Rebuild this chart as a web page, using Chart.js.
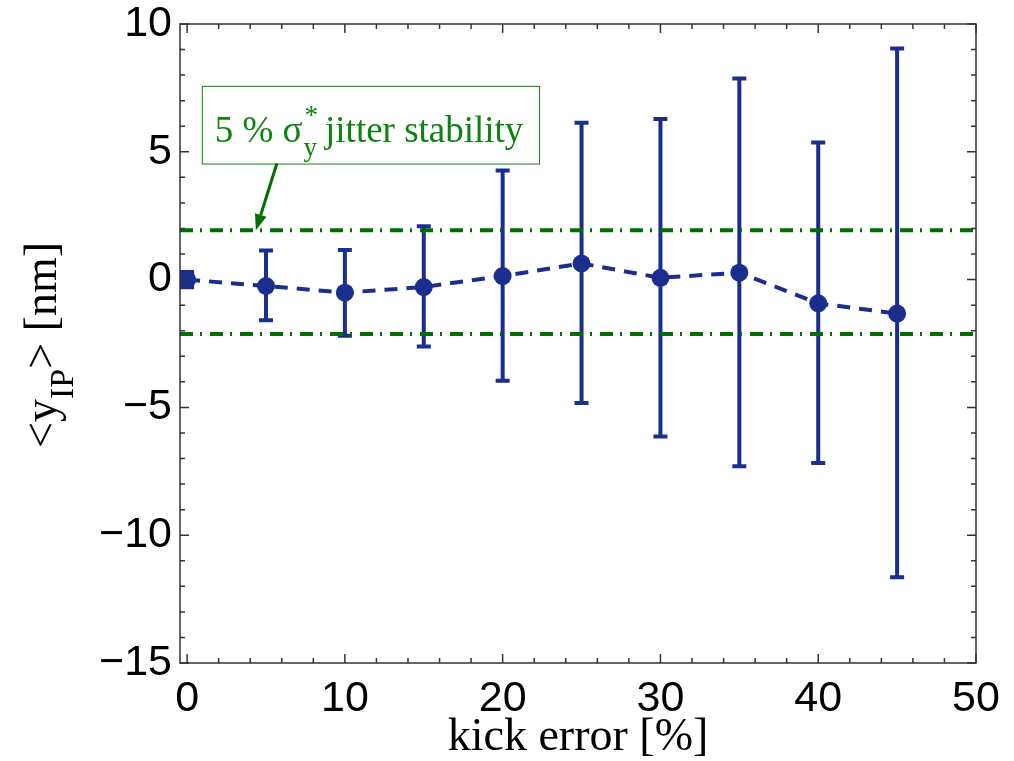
<!DOCTYPE html>
<html>
<head>
<meta charset="utf-8">
<script src="https://cdn.jsdelivr.net/npm/chart.js@4.4.1/dist/chart.umd.min.js"></script>
<style>
  html, body { margin: 0; padding: 0; background: #fff; }
</style>
</head>
<body>
<canvas id="chart" width="1014" height="761"></canvas>
<script>
// data
const kickError = [0, 5, 10, 15, 20, 25, 30, 35, 40, 45];
const meanY     = [0, -0.25, -0.51, -0.29, 0.14, 0.63, 0.07, 0.27, -0.93, -1.33];
const errTop    = [0.3, 1.14, 1.16, 2.09, 4.27, 6.14, 6.28, 7.87, 5.36, 9.04];
const errBottom = [-0.3, -1.59, -2.2, -2.62, -3.96, -4.83, -6.14, -7.3, -7.18, -11.65];
const jitterLimits = [1.93, -2.13];
const xTicks = [0, 10, 20, 30, 40, 50];
const yTicks = [-15, -10, -5, 0, 5, 10];
const xRange = [-0.45, 50];
const yRange = [-15, 10];

const blue = '#1b2e8e';
const green = '#006f00';
const textGreen = '#0d820d';
const serif = '"Liberation Serif", "Times New Roman", serif';
const sans = '"Liberation Sans", Arial, Helvetica, sans-serif';

const minus = v => String(v).replace('-', '\u2212');

// vertical error bars, drawn through the scales
const errorBars = {
    id: 'errorBars',
    beforeDatasetsDraw(chart) {
        const {ctx, chartArea, scales: {x, y}} = chart;
        ctx.save();
        ctx.beginPath();
        ctx.rect(chartArea.left, chartArea.top, chartArea.width, chartArea.height);
        ctx.clip();
        ctx.strokeStyle = blue;
        ctx.lineWidth = 4;
        kickError.forEach((k, i) => {
            const px = x.getPixelForValue(k);
            const top = y.getPixelForValue(errTop[i]);
            const bot = y.getPixelForValue(errBottom[i]);
            ctx.beginPath();
            ctx.moveTo(px, top); ctx.lineTo(px, bot);
            ctx.moveTo(px - 7, top); ctx.lineTo(px + 7, top);
            ctx.moveTo(px - 7, bot); ctx.lineTo(px + 7, bot);
            ctx.stroke();
        });
        ctx.restore();
    }
};

// matlab style box with inward ticks on all sides
const boxTicks = {
    id: 'boxTicks',
    afterDraw(chart) {
        const {ctx, chartArea: a, scales: {x, y}} = chart;
        ctx.save();
        ctx.strokeStyle = '#333';
        ctx.lineWidth = 1.5;
        ctx.strokeRect(a.left, a.top, a.width, a.height);
        ctx.beginPath();
        for (let v = 0; v <= xRange[1]; v += 2) {
            const px = x.getPixelForValue(v);
            const len = v % 10 === 0 ? 9 : 5;
            ctx.moveTo(px, a.bottom); ctx.lineTo(px, a.bottom - len);
            ctx.moveTo(px, a.top); ctx.lineTo(px, a.top + len);
        }
        for (let v = yRange[0]; v <= yRange[1]; v += 1) {
            const py = y.getPixelForValue(v);
            const len = v % 5 === 0 ? 9 : 5;
            ctx.moveTo(a.left, py); ctx.lineTo(a.left + len, py);
            ctx.moveTo(a.right, py); ctx.lineTo(a.right - len, py);
        }
        ctx.stroke();
        ctx.restore();
    }
};

// y axis title with subscript
const yTitle = {
    id: 'yTitle',
    afterDraw(chart) {
        const ctx = chart.ctx;
        const parts = [
            {t: '<y', f: '46px ' + serif, dy: 0},
            {t: 'IP', f: '34px ' + serif, dy: 17},
            {t: '> [nm]', f: '46px ' + serif, dy: 0}
        ];
        ctx.save();
        let total = 0;
        parts.forEach(p => { ctx.font = p.f; p.w = ctx.measureText(p.t).width; total += p.w; });
        ctx.translate(56, 345);
        ctx.rotate(-Math.PI / 2);
        ctx.fillStyle = '#000';
        ctx.textBaseline = 'alphabetic';
        let cx = -total / 2;
        parts.forEach(p => { ctx.font = p.f; ctx.fillText(p.t, cx, p.dy); cx += p.w; });
        ctx.restore();
    }
};

// "5 % sigma_y* jitter stability" note with arrow to the limit line
const note = {box: [0.93, 7.58, 22.3, 4.54], arrowFrom: [5.69, 4.54], arrowTo: [4.36, 1.93]};
const jitterNote = {
    id: 'jitterNote',
    afterDraw(chart) {
        const {ctx, scales: {x, y}} = chart;
        const l = x.getPixelForValue(note.box[0]), t = y.getPixelForValue(note.box[1]);
        const r = x.getPixelForValue(note.box[2]), b = y.getPixelForValue(note.box[3]);
        ctx.save();
        ctx.fillStyle = '#fff';
        ctx.fillRect(l, t, r - l, b - t);
        ctx.strokeStyle = textGreen;
        ctx.lineWidth = 1;
        ctx.strokeRect(l + 0.5, t + 0.5, r - l, b - t);

        ctx.fillStyle = textGreen;
        ctx.textBaseline = 'alphabetic';
        const base = t + 56;
        let cx = l + 13;
        ctx.font = '37px ' + serif;
        ctx.fillText('5 % \u03c3', cx, base);
        cx += ctx.measureText('5 % \u03c3').width + 1;
        ctx.font = '27px ' + serif;
        ctx.fillText('*', cx + 1, base - 18);
        ctx.fillText('y', cx, base + 14);
        cx += ctx.measureText('y').width + 8;
        ctx.font = '37px ' + serif;
        ctx.fillText('jitter stability', cx, base);

        // arrow
        const x0 = x.getPixelForValue(note.arrowFrom[0]), y0 = y.getPixelForValue(note.arrowFrom[1]);
        const x1 = x.getPixelForValue(note.arrowTo[0]), y1 = y.getPixelForValue(note.arrowTo[1]);
        const ang = Math.atan2(y1 - y0, x1 - x0);
        const hl = 16, hw = 6;
        ctx.strokeStyle = green;
        ctx.fillStyle = green;
        ctx.lineWidth = 3;
        ctx.beginPath();
        ctx.moveTo(x0, y0);
        ctx.lineTo(x1 - hl * Math.cos(ang), y1 - hl * Math.sin(ang));
        ctx.stroke();
        ctx.beginPath();
        ctx.moveTo(x1, y1);
        ctx.lineTo(x1 - hl * Math.cos(ang) + hw * Math.sin(ang), y1 - hl * Math.sin(ang) - hw * Math.cos(ang));
        ctx.lineTo(x1 - hl * Math.cos(ang) - hw * Math.sin(ang), y1 - hl * Math.sin(ang) + hw * Math.cos(ang));
        ctx.closePath();
        ctx.fill();
        ctx.restore();
    }
};

const limitLine = v => ({
    data: [{x: xRange[0], y: v}, {x: xRange[1], y: v}],
    borderColor: green,
    borderWidth: 4,
    borderDash: [13, 7, 2, 8],
    pointRadius: 0,
    order: 1
});

new Chart(document.getElementById('chart'), {
    type: 'line',
    data: {
        datasets: [
            {
                label: '<y_IP>',
                data: kickError.map((k, i) => ({x: k, y: meanY[i]})),
                borderColor: blue,
                backgroundColor: blue,
                borderWidth: 4,
                borderDash: [13, 9],
                pointRadius: 9,
                pointHoverRadius: 9,
                pointBorderWidth: 0,
                order: 2
            },
            limitLine(jitterLimits[0]),
            limitLine(jitterLimits[1])
        ]
    },
    options: {
        responsive: false,
        animation: false,
        devicePixelRatio: 1,
        events: [],
        layout: {padding: {top: 24, right: 38, left: 0, bottom: 0}},
        plugins: {legend: {display: false}, tooltip: {enabled: false}},
        scales: {
            x: {
                type: 'linear',
                min: xRange[0],
                max: xRange[1],
                afterBuildTicks: s => { s.ticks = xTicks.map(v => ({value: v})); },
                afterFit: s => { s.height = 98; s.paddingLeft = 0; s.paddingRight = 0; },
                grid: {display: false, drawTicks: false},
                border: {display: false},
                ticks: {
                    color: '#000',
                    padding: 10,
                    maxRotation: 0,
                    font: {family: sans, size: 43},
                    callback: minus
                },
                title: {
                    display: true,
                    text: 'kick error [%]',
                    color: '#000',
                    font: {family: serif, size: 46, lineHeight: 1},
                    padding: {top: 0, bottom: 0}
                }
            },
            y: {
                min: yRange[0],
                max: yRange[1],
                afterBuildTicks: s => { s.ticks = yTicks.map(v => ({value: v})); },
                afterFit: s => { s.width = 180; s.paddingTop = 0; s.paddingBottom = 0; },
                grid: {display: false, drawTicks: false},
                border: {display: false},
                ticks: {
                    color: '#000',
                    padding: 8,
                    font: {family: sans, size: 43},
                    callback: minus
                }
            }
        }
    },
    plugins: [errorBars, boxTicks, yTitle, jitterNote]
});
</script>
</body>
</html>
